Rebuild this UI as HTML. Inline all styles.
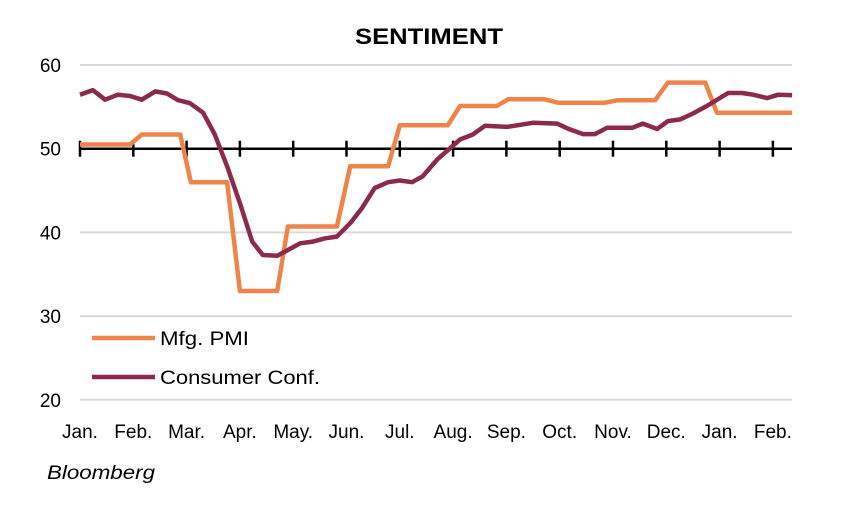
<!DOCTYPE html>
<html><head><meta charset="utf-8"><style>
body{margin:0;background:#fff;width:863px;height:501px;overflow:hidden;font-family:"Liberation Sans",sans-serif}
svg text{font-family:"Liberation Sans",sans-serif}
</style></head><body>
<svg id="chart" width="863" height="501" viewBox="0 0 863 501" xmlns="http://www.w3.org/2000/svg">
<text x="355" y="44" font-size="22" font-weight="bold" textLength="148" lengthAdjust="spacingAndGlyphs">SENTIMENT</text>
<g id="grid"></g><g id="axes"></g><g id="series"></g>
<g>
<line x1="92" y1="338" x2="155" y2="338" stroke="#EE844A" stroke-width="4.5"/>
<text x="160" y="345" font-size="19" textLength="89" lengthAdjust="spacingAndGlyphs">Mfg. PMI</text>
<line x1="92" y1="377" x2="155" y2="377" stroke="#8B2A4E" stroke-width="4.5"/>
<text x="160" y="384" font-size="19" textLength="160" lengthAdjust="spacingAndGlyphs">Consumer Conf.</text>
</g>
<text x="47" y="479" font-size="19" font-style="italic" textLength="108" lengthAdjust="spacingAndGlyphs">Bloomberg</text>
</svg>
<script>
const months = ["Jan.","Feb.","Mar.","Apr.","May.","Jun.","Jul.","Aug.","Sep.","Oct.","Nov.","Dec.","Jan.","Feb."];
const yTicks = [20,30,40,50,60];
const pmiT = [0,0.94,1.16,1.88,2.08,2.76,3.0,3.7,3.9,4.82,5.07,5.78,6.0,6.9,7.13,7.82,8.03,8.72,8.97,9.85,10.09,10.79,11.03,11.73,11.95,13.36];
const pmiV = [50.5,50.5,51.7,51.7,46,46,33,33,40.7,40.7,47.9,47.9,52.8,52.8,55.1,55.1,55.9,55.9,55.5,55.5,55.8,55.8,57.9,57.9,54.3,54.3];
const ccT = [0,0.24,0.47,0.71,0.94,1.16,1.41,1.63,1.84,2.06,2.31,2.53,2.76,3.0,3.23,3.43,3.7,3.9,4.13,4.37,4.6,4.82,5.07,5.29,5.53,5.78,6.0,6.23,6.43,6.7,7.13,7.37,7.6,8.01,8.5,8.95,9.19,9.44,9.66,9.89,10.36,10.56,10.83,11.03,11.26,11.5,11.76,12.16,12.42,12.63,12.89,13.1,13.36];
const ccV = [56.45,57.0,55.85,56.45,56.3,55.85,56.85,56.6,55.8,55.45,54.3,51.7,47.9,43.5,38.9,37.3,37.2,37.9,38.7,38.9,39.3,39.5,41.1,42.9,45.3,46.0,46.2,46.0,46.7,48.7,51.1,51.7,52.75,52.6,53.1,53.0,52.3,51.75,51.75,52.5,52.5,53.0,52.35,53.3,53.5,54.2,55.1,56.65,56.65,56.45,56.05,56.45,56.4];

const NS="http://www.w3.org/2000/svg";
const X0=80,X1=792,MW=53.3,Y60=65,YPU=8.37;
const xs=t=>X0+t*MW;
const ys=v=>Y60+(60-v)*YPU;
function mk(tag,attrs,parent){const e=document.createElementNS(NS,tag);for(const k in attrs)e.setAttribute(k,attrs[k]);parent.appendChild(e);return e;}
const grid=document.getElementById('grid'),axes=document.getElementById('axes'),series=document.getElementById('series');
yTicks.forEach(v=>{
  if(v!==50){const l=mk('line',{x1:X0,x2:X1,y1:ys(v),y2:ys(v),stroke:'#d9d9d9','stroke-width':2},grid);
  
  }
  const t=mk('text',{x:61,y:ys(v)+7,'text-anchor':'end','font-size':19},axes);t.textContent=v;
  
  
});
const ax=mk('line',{x1:X0,x2:X1,y1:ys(50),y2:ys(50),stroke:'#000','stroke-width':2.5},axes);


months.forEach((m,i)=>{
  const tk=mk('line',{x1:xs(i),x2:xs(i),y1:ys(50)-8,y2:ys(50)+8,stroke:'#000','stroke-width':2.5},axes);
  
  
  const t=mk('text',{x:xs(i),y:438,'text-anchor':'middle','font-size':19},axes);t.textContent=m;
  
  
});
function line(T,V,color,name){
  const p=mk('polyline',{points:T.map((t,i)=>xs(t).toFixed(1)+','+ys(V[i]).toFixed(1)).join(' '),fill:'none',stroke:color,'stroke-width':4.5,'stroke-linejoin':'round'},series);
  
  
}
line(pmiT,pmiV,'#EE844A','mfg-pmi-line');
line(ccT,ccV,'#8B2A4E','consumer-conf-line');
</script>
</body></html>
